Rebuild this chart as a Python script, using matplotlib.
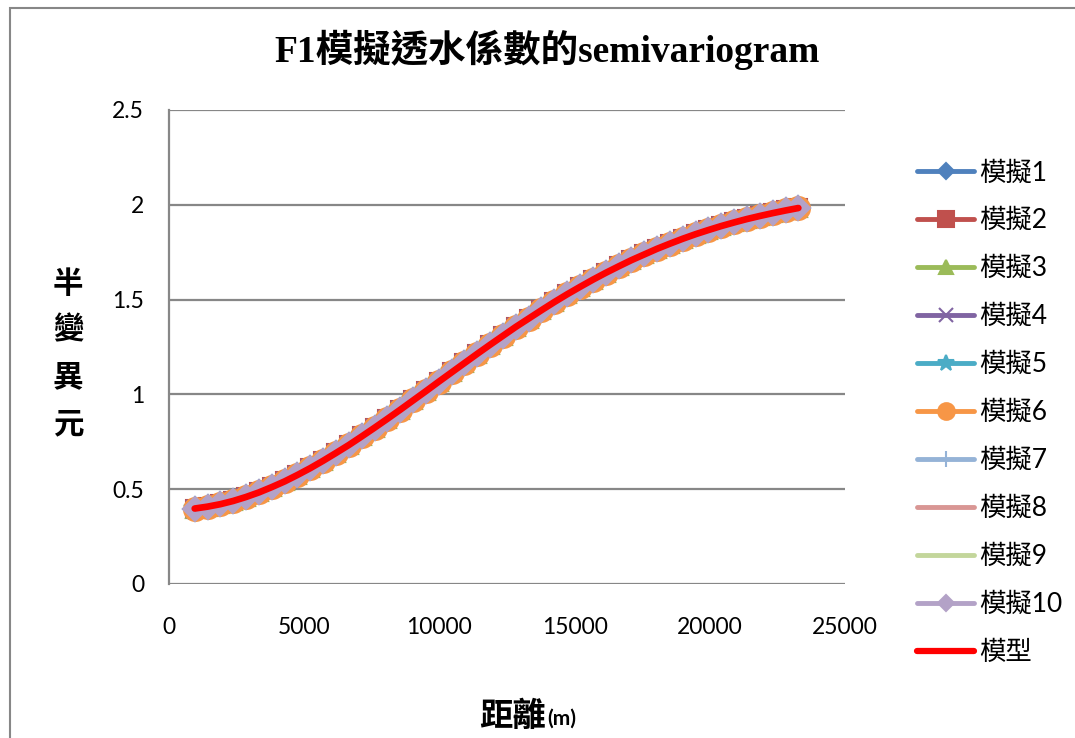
import matplotlib
matplotlib.use("Agg")
import matplotlib.pyplot as plt
from matplotlib.patches import Rectangle
from matplotlib.lines import Line2D
from matplotlib.ticker import FuncFormatter

# Lag distances (m)
distance = [950, 1425, 1900, 2375, 2850, 3325, 3800, 4275, 4750, 5225,
            5700, 6175, 6650, 7125, 7600, 8075, 8550, 9025, 9500, 9975,
            10450, 10925, 11400, 11875, 12350, 12825, 13300, 13775, 14250, 14725,
            15200, 15675, 16150, 16625, 17100, 17575, 18050, 18525, 19000, 19475,
            19950, 20425, 20900, 21375, 21850, 22325, 22800, 23275]

# Fitted model semivariance
model_gamma = [0.398, 0.408, 0.421, 0.438, 0.459, 0.483, 0.511, 0.541, 0.575, 0.611,
               0.650, 0.691, 0.733, 0.778, 0.824, 0.871, 0.919, 0.968, 1.017, 1.067,
               1.116, 1.165, 1.214, 1.262, 1.309, 1.356, 1.400, 1.444, 1.487, 1.528,
               1.567, 1.605, 1.641, 1.675, 1.708, 1.738, 1.768, 1.795, 1.821, 1.845,
               1.867, 1.888, 1.907, 1.925, 1.941, 1.956, 1.970, 1.983]

# Experimental semivariance of the simulations (coincident with the model curve)
sim_gamma = [0.398, 0.408, 0.421, 0.438, 0.459, 0.483, 0.511, 0.541, 0.575, 0.611,
             0.650, 0.691, 0.733, 0.778, 0.824, 0.871, 0.919, 0.968, 1.017, 1.067,
             1.116, 1.165, 1.214, 1.262, 1.309, 1.356, 1.400, 1.444, 1.487, 1.528,
             1.567, 1.605, 1.641, 1.675, 1.708, 1.738, 1.768, 1.795, 1.821, 1.845,
             1.867, 1.888, 1.907, 1.925, 1.941, 1.956, 1.970, 1.983]

sim_labels = ["模擬1", "模擬2", "模擬3", "模擬4", "模擬5",
              "模擬6", "模擬7", "模擬8", "模擬9", "模擬10"]
model_label = "模型"
sim_colors = ["#4F81BD", "#C0504D", "#9BBB59", "#8064A2", "#4BACC6",
              "#F79646", "#95B3D7", "#D99694", "#C3D69B", "#B3A2C7"]
sim_markers = ["D", "s", "^", "x", "*", "o", "+", "_", "_", "D"]
plot_msizes = [12, 13, 13, 13, 17, 16.5, 15, 1, 1, 12.5]
legend_msizes = [8, 11, 10, 10, 12, 12, 12, 1, 1, 8]

y_ticks = [0, 0.5, 1, 1.5, 2, 2.5]
x_ticks = [0, 5000, 10000, 15000, 20000, 25000]

title = "F1模擬透水係數的semivariogram"

W, H = 1075, 738
fig = plt.figure(figsize=(W / 100, H / 100), dpi=100)
fig.patch.set_facecolor("white")

# chart frame
fig.patches.append(Rectangle((10 / W, -0.1), 1.2, 1 - 8 / H + 0.1,
                             transform=fig.transFigure, fill=False,
                             edgecolor="#878787", linewidth=1.5))

ax = fig.add_axes([169 / W, 1 - 584 / H, (845 - 169) / W, (584 - 110) / H])
ax.set_xlim(0, 25000)
ax.set_ylim(0, 2.5)

handles = []
for lab, col, mk, ms, lms in zip(sim_labels, sim_colors, sim_markers,
                                 plot_msizes, legend_msizes):
    ax.plot(distance, sim_gamma, color=col, lw=3.5, marker=mk, markersize=ms,
            markerfacecolor=col, markeredgecolor=col, markeredgewidth=1.5,
            solid_capstyle="round", clip_on=False)
    handles.append(Line2D([], [], color=col, lw=3.5, marker=mk, markersize=lms,
                          markerfacecolor=col, markeredgecolor=col,
                          markeredgewidth=1.5, solid_capstyle="round",
                          label=lab))
ax.plot(distance, model_gamma, color="#FF0000", lw=4.8,
        solid_capstyle="round", zorder=5)
handles.append(Line2D([], [], color="#FF0000", lw=4.5,
                      solid_capstyle="round", label=model_label))

ax.set_yticks(y_ticks)
ax.set_xticks(x_ticks)
ax.yaxis.set_major_formatter(FuncFormatter(lambda v, p: f"{v:g}"))
ax.xaxis.set_major_formatter(FuncFormatter(lambda v, p: f"{v:g}"))
ax.grid(axis="y", color="#878787", lw=1.6)
ax.set_axisbelow(True)
for s in ["top", "right", "bottom"]:
    ax.spines[s].set_visible(False)
ax.spines["left"].set_color("#878787")
ax.spines["left"].set_linewidth(1.6)
ax.tick_params(length=0, labelsize=16.5, colors="black")
ax.tick_params(axis="y", pad=18)
ax.tick_params(axis="x", pad=24)
for t in ax.get_xticklabels() + ax.get_yticklabels():
    t.set_family(["Lato", "DejaVu Sans"])

fig.text(547 / W, 1 - 50 / H, title, ha="center", va="center",
         fontsize=27, fontweight="bold",
         family=["Liberation Serif", "Noto Sans CJK TC"])

fig.text(68 / W, 1 - 354 / H, "半\n變\n異\n元", ha="center", va="center",
         fontsize=22, fontweight="bold", linespacing=1.6,
         family=["Noto Sans CJK TC"])

fig.text(546 / W, 1 - 716 / H, "距離", ha="right", va="center",
         fontsize=24, fontweight="bold", family=["Noto Sans CJK TC"])
fig.text(547 / W, 1 - 719 / H, "(m)", ha="left", va="center",
         fontsize=15, fontweight="bold", family=["Lato", "DejaVu Sans"])

leg = fig.legend(handles=handles, loc="upper left",
                 bbox_to_anchor=(899 / W, 1 - 142 / H), frameon=False,
                 prop={"family": ["Lato", "Noto Sans CJK TC"], "size": 19},
                 handlelength=2.15, handletextpad=0.2, labelspacing=0.87,
                 borderpad=0.2)

fig.savefig("out.png", dpi=100, facecolor="white")
